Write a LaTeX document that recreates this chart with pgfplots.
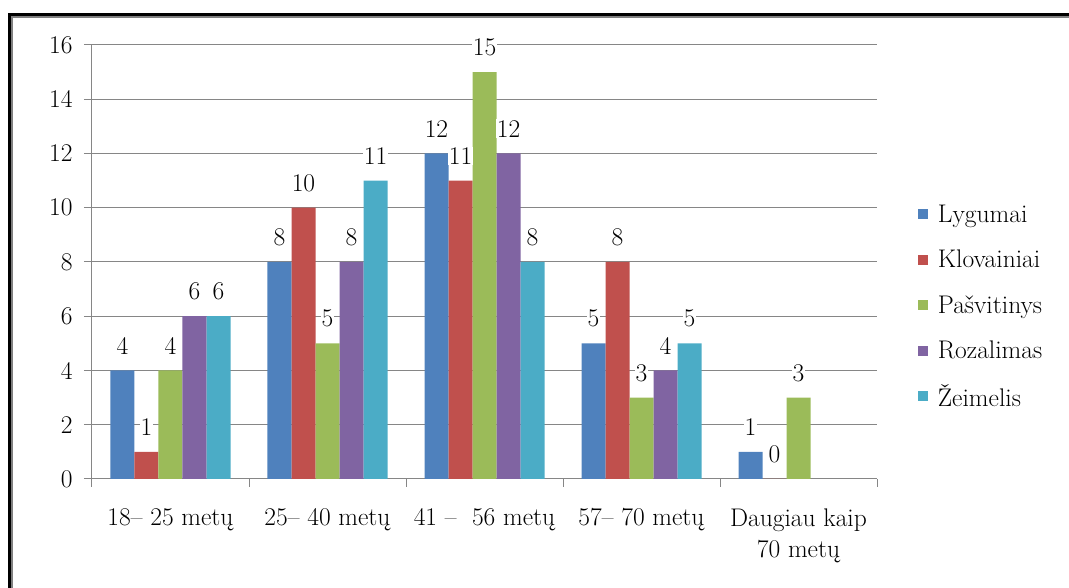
\documentclass[border=0pt]{standalone}
\usepackage{fontspec}
\usepackage{pgfplots}
\pgfplotsset{compat=1.18}
\definecolor{cA}{HTML}{4F81BD}
\definecolor{cB}{HTML}{C0504D}
\definecolor{cC}{HTML}{9BBB59}
\definecolor{cD}{HTML}{8064A2}
\definecolor{cE}{HTML}{4BACC6}
\definecolor{gridc}{HTML}{868686}
\newcommand{\bigf}{\rmfamily\fontsize{25.5}{31}\selectfont}
\begin{document}
\begin{tikzpicture}[font=\bigf]
\path[use as bounding box] (0pt,0pt) rectangle (1069pt,588pt);
\begin{axis}[
  at={(92pt,109pt)}, anchor=south west,
  scale only axis, width=785pt, height=434pt,
  xmin=-0.5, xmax=4.5, ymin=0, ymax=16,
  ybar=0pt, bar width=24pt,
  axis lines*=left,
  axis line style={gridc, line width=1pt},
  ymajorgrids, grid style={gridc, line width=1pt},
  ytick={0,2,...,16},
  tick align=outside, major tick length=8pt,
  tick style={gridc, line width=1pt},
  xtick={-0.5,0.5,...,4.5}, xticklabels={},
  extra x ticks={0,1,2,3,4},
  extra x tick labels={18– 25 metų, 25– 40 metų, 41 –\ \ 56 metų, 57– 70 metų, {Daugiau kaip\\70 metų}},
  extra x tick style={major tick length=26pt, tick style={draw=none}},
  ticklabel style={font=\bigf},
  xticklabel style={align=center},
  yticklabel style={xshift=-8pt},
  /pgf/number format/assume math mode=true,
  nodes near coords,
  every node near coord/.append style={font=\bigf, fill=white, inner sep=1pt, yshift=15pt},
  legend style={at={(1.0522,0.663)}, anchor=north west, draw=none, fill=none,
    font=\bigf, row sep=0pt, inner sep=0pt,
    /tikz/every even column/.append style={column sep=4pt}},
  legend cell align=left,
  legend image code/.code={\path[fill=none, draw=none] (0pt,-22.75pt) rectangle (10pt,22.75pt); \fill[#1] (0pt,-5pt) rectangle (10pt,5pt);},
  clip=false,
]
\addplot[fill=cA, draw=none] coordinates {(0,4) (1,8) (2,12) (3,5) (4,1)};
\addplot[fill=cB, draw=none] coordinates {(0,1) (1,10) (2,11) (3,8) (4,0)};
\addplot[fill=cC, draw=none] coordinates {(0,4) (1,5) (2,15) (3,3) (4,3)};
\addplot[fill=cD, draw=none] coordinates {(0,6) (1,8) (2,12) (3,4)};
\addplot[fill=cE, draw=none] coordinates {(0,6) (1,11) (2,8) (3,5)};
\legend{\ Lygumai, \ Klovainiai, \ Pašvitinys, \ Rozalimas, \ Žeimelis}
\end{axis}
\draw[gray, line width=2pt] (12pt,-20pt) -- (12pt,571pt) -- (1090pt,571pt);
\draw[black, line width=3pt] (9.5pt,-20pt) -- (9.5pt,573.5pt) -- (1090pt,573.5pt);
\end{tikzpicture}
\end{document}
